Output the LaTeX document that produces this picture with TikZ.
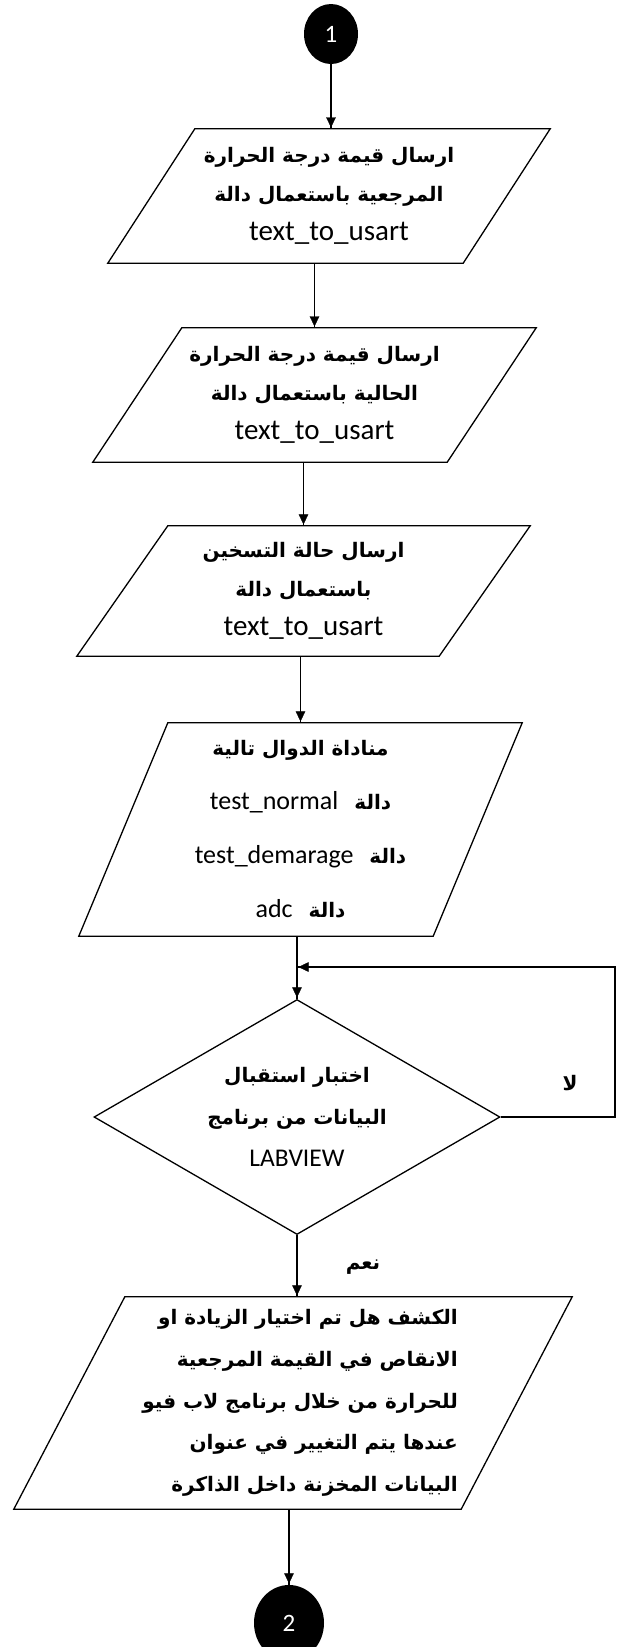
\documentclass[tikz,border=0pt]{standalone}
\usepackage{fontspec}
\setmainfont{Carlito}
\newfontfamily\arabicfont[Script=Arabic]{DejaVu Sans}
\TeXXeTstate=1
\usetikzlibrary{positioning, calc, shapes.geometric, arrows.meta, decorations.markings}
\tikzstyle{Arrow} = [
line width=1.5pt,
decoration={
markings,
mark=at position 0.9999 with {
\arrow{Triangle[length=12pt, width=11pt]}}},
preaction = {decorate}]
\tikzstyle{frame} = [line width=1.3pt]
\tikzstyle{box} = [inner sep=0pt, align=center, font=\fontsize{29}{39}\selectfont]
\tikzstyle{conn} = [ellipse, fill=black, text=white, inner sep=0pt, font=\fontsize{25}{30}\selectfont]
\tikzstyle{lbl} = [inner sep=0pt, font=\fontsize{25}{30}\selectfont]
\newcommand{\artext}[1]{{\arabicfont\bfseries\fontsize{20}{24}\selectfont\beginR #1\endR}}
\newcommand{\paraframe}[2]{%
  \draw[frame] ([xshift=#2]#1.north west) -- (#1.north east)
    -- ([xshift=-#2]#1.south east) -- (#1.south west) -- cycle;}

\begin{document}
\begin{tikzpicture}[x=1pt, y=-1pt]
    \useasboundingbox (0,0) rectangle (616,1647);

    \node[conn, minimum width=54pt, minimum height=60pt] (c1) at (331,34) {1};
    \node[box, minimum width=442pt, minimum height=134pt] (p1) at (329,196)
        {\artext{ارسال قيمة درجة الحرارة}\\ \artext{المرجعية  باستعمال دالة}\\ text\_to\_usart};
    \node[box, minimum width=443pt, minimum height=134pt] (p2) at (314.5,395)
        {\artext{ارسال قيمة درجة الحرارة}\\ \artext{الحالية  باستعمال دالة}\\ text\_to\_usart};
    \node[box, minimum width=453pt, minimum height=130pt] (p3) at (303.5,591)
        {\artext{ارسال حالة التسخين}\\ \artext{باستعمال دالة}\\ text\_to\_usart};
    \node[box, minimum width=443pt, minimum height=213pt, font=\fontsize{26}{54}\selectfont] (p4) at (300.5,829.5)
        {\artext{مناداة الدوال تالية}\\ test\_normal\hspace{16pt}\artext{دالة}\\
         test\_demarage\hspace{16pt}\artext{دالة}\\ adc\hspace{16pt}\artext{دالة}};
    \node[box, diamond, draw, frame, aspect=1.73, minimum width=406pt, minimum height=235pt,
        font=\fontsize{25.5}{42}\selectfont] (d) at (297,1117)
        {\artext{اختبار استقبال}\\ \artext{البيانات من برنامج}\\ LABVIEW};
    \node[box, minimum width=558pt, minimum height=212pt] (p5) at (293,1403) {};
    \node[box, anchor=east, align=right, font=\fontsize{25}{41.7}\selectfont] (t5) at ([xshift=165pt]p5.center)
        {\artext{الكشف هل تم اختيار الزيادة او}\\ \artext{الانقاص في القيمة المرجعية}\\
         \artext{للحرارة من خلال برنامج لاب فيو}\\ \artext{عندها يتم  التغيير في عنوان}\\
         \artext{البيانات المخزنة داخل الذاكرة}};
    \node[conn, minimum width=70pt, minimum height=76pt] (c2) at (289,1623) {2};

    \paraframe{p1}{87pt}
    \paraframe{p2}{89pt}
    \paraframe{p3}{91pt}
    \paraframe{p4}{89pt}
    \paraframe{p5}{111pt}

    \node[lbl] (no) at (570,1083) {\artext{لا}};
    \node[lbl] (yes) at (363,1267) {\artext{نعم}};
    \coordinate (back) at (615,967);

    \draw[Arrow] (c1.south) -- (c1 |- p1.north);
    \draw[Arrow] (p1.south -| p2) -- (p2.north);
    \draw[Arrow] (p2.south -| p3) -- (p3.north);
    \draw[Arrow] (p3.south -| p4) -- (p4.north);
    \draw[Arrow] (p4.south -| d) -- (d.north);
    \draw[Arrow] (d.east) -| (back) -- (back -| d.north);
    \draw[Arrow] (d.south) -- (d.south |- p5.north);
    \draw[Arrow] (p5.south -| c2) -- (c2.north);
\end{tikzpicture}
\end{document}
